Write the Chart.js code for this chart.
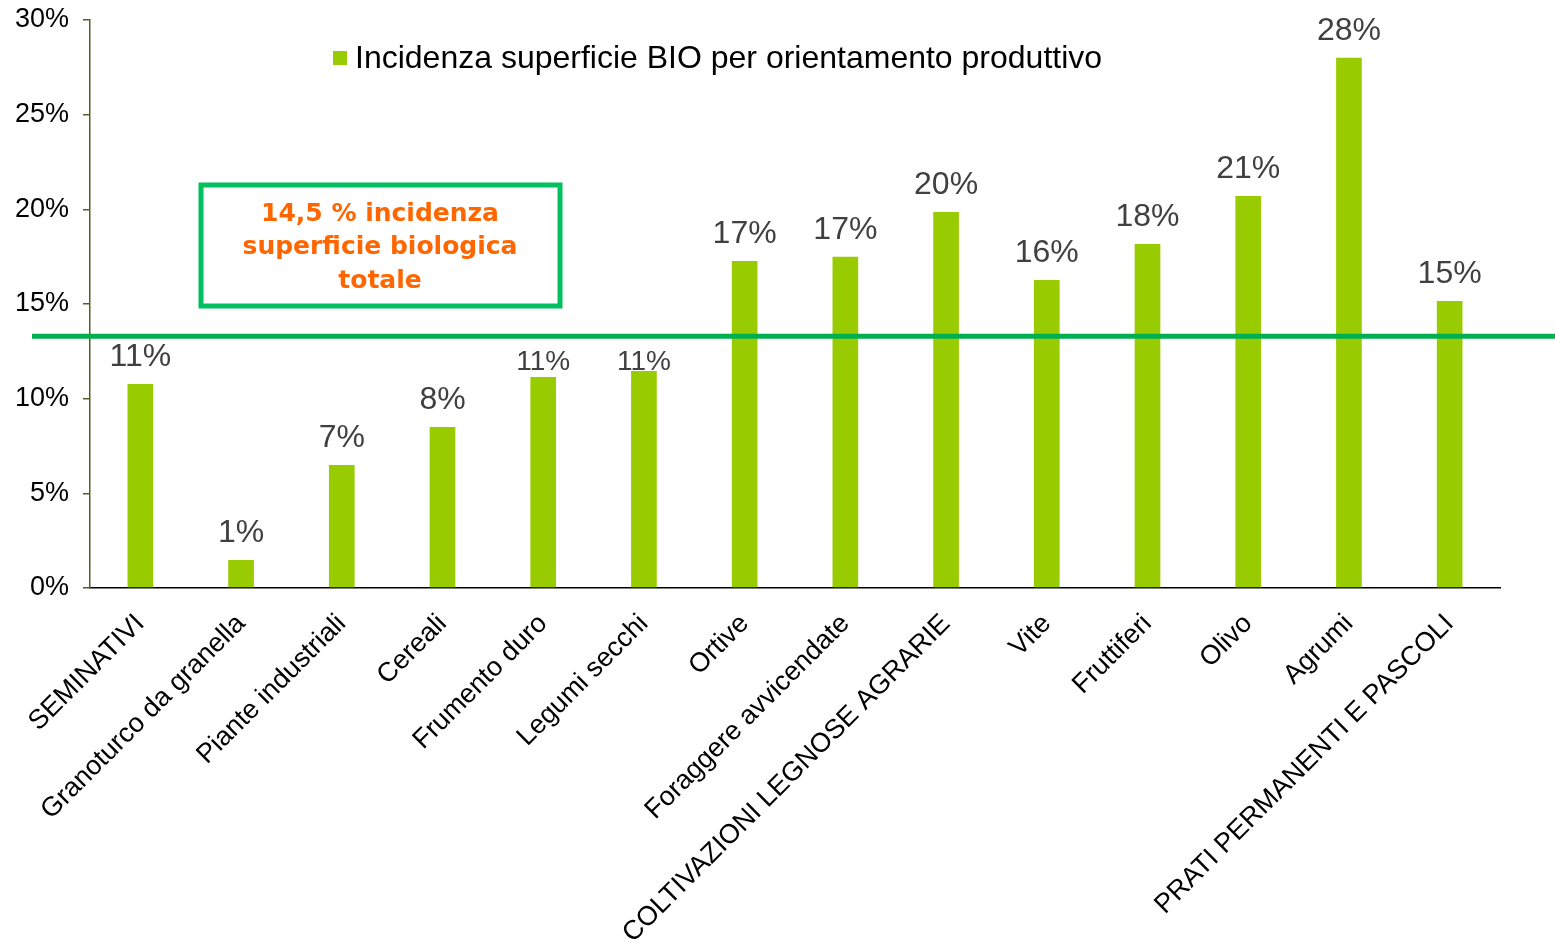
<!DOCTYPE html>
<html><head><meta charset="utf-8">
<script src="https://cdn.jsdelivr.net/npm/chart.js@4/dist/chart.umd.min.js"></script>
<style>html,body{margin:0;padding:0;background:#fff;overflow:hidden}</style>
</head><body>
<canvas id="c" width="1555" height="941" style="width:1555px;height:941px"></canvas>
<script>
const categories = ['SEMINATIVI','Granoturco da granella','Piante industriali','Cereali','Frumento duro','Legumi secchi','Ortive','Foraggere avvicendate','COLTIVAZIONI LEGNOSE AGRARIE','Vite','Fruttiferi','Olivo','Agrumi','PRATI PERMANENTI E PASCOLI'];
const values = [10.78, 1.48, 6.5, 8.5, 11.15, 11.46, 17.27, 17.49, 19.86, 16.27, 18.17, 20.71, 28.0, 15.16];
const valueLabels = ['11%','1%','7%','8%','11%','11%','17%','17%','20%','16%','18%','21%','28%','15%'];
const refLineValue = 13.3;
const seriesName = 'Incidenza superficie BIO per orientamento produttivo';
const boxLines = ['14,5 % incidenza','superficie biologica','totale'];
const yTickStep = 5;
const yMin = 0, yMax = 30;

const FONT = "'Liberation Sans', Arial, sans-serif";
const BAR_COLOR = '#99CC00';
const LINE_COLOR = '#00B050';

const overlay = {
  id: 'overlay',
  afterDatasetsDraw(chart) {
    const ctx = chart.ctx;
    const y = chart.scales.y;
    const meta = chart.getDatasetMeta(0);
    const lineY = y.getPixelForValue(refLineValue);
    ctx.save();
    // reference line
    ctx.strokeStyle = LINE_COLOR;
    ctx.lineWidth = 5;
    ctx.beginPath();
    ctx.moveTo(32, lineY);
    ctx.lineTo(chart.width, lineY);
    ctx.stroke();
    // value labels
    ctx.fillStyle = '#404040';
    ctx.textAlign = 'center';
    ctx.textBaseline = 'middle';
    meta.data.forEach((bar, i) => {
      let cy = bar.y - 27;
      let size = 32;
      if (cy - 12 < lineY + 3 && cy + 12 > lineY - 3) { cy = lineY + 26; size = 28; }
      ctx.font = size + 'px ' + FONT;
      ctx.fillText(valueLabels[i], bar.x, cy);
    });
    // annotation box
    ctx.strokeStyle = '#00C060';
    ctx.lineWidth = 5;
    ctx.strokeRect(201, 185, 359, 121);
    ctx.fillStyle = '#FF6600';
    ctx.font = "bold 25px 'DejaVu Sans', Verdana, sans-serif";
    boxLines.forEach((t, k) => ctx.fillText(t, 380, 214 + k * 33.5));
    // legend
    ctx.fillStyle = BAR_COLOR;
    ctx.fillRect(333, 51, 14, 14);
    ctx.fillStyle = '#000';
    ctx.textAlign = 'left';
    ctx.font = '32px ' + FONT;
    ctx.fillText(seriesName, 355, 59);
    ctx.restore();
  }
};

new Chart(document.getElementById('c'), {
  type: 'bar',
  data: {
    labels: categories,
    datasets: [{
      label: seriesName,
      data: values,
      backgroundColor: BAR_COLOR,
      categoryPercentage: 1,
      barPercentage: 0.255
    }]
  },
  options: {
    responsive: false,
    animation: false,
    devicePixelRatio: 1,
    layout: { padding: { top: 20, right: 55, left: 0, bottom: 0 } },
    plugins: { legend: { display: false }, tooltip: { enabled: false } },
    scales: {
      x: {
        grid: { display: false },
        border: { color: '#000', width: 1.5 },
        ticks: { color: '#000', font: { family: FONT, size: 27 }, maxRotation: 45, minRotation: 45, autoSkip: false, padding: 12 },
        afterFit(s) { s.height = 353; s.paddingLeft = 0; s.paddingRight = 0; }
      },
      y: {
        min: yMin, max: yMax,
        grid: { drawOnChartArea: false, tickLength: 7, color: '#4F6228', lineWidth: 1.5 },
        border: { color: '#4F6228', width: 1.5 },
        ticks: { stepSize: yTickStep, color: '#000', font: { family: FONT, size: 27 }, padding: 14, callback: v => v + '%' },
        afterFit(s) { s.width = 90; s.paddingTop = 0; s.paddingBottom = 0; }
      }
    }
  },
  plugins: [overlay]
});
</script>
</body></html>
